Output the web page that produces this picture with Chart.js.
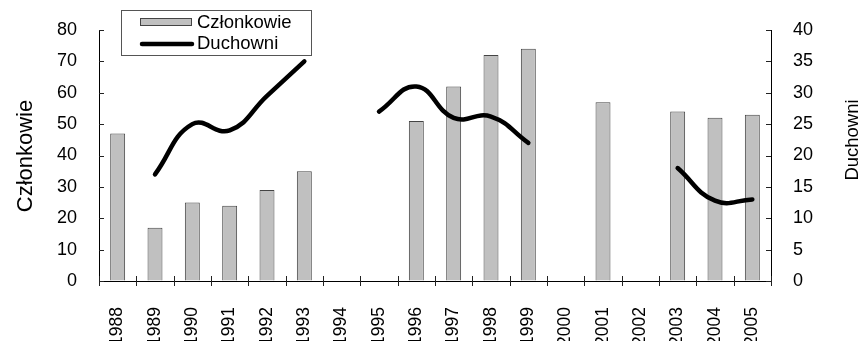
<!DOCTYPE html>
<html>
<head>
<meta charset="utf-8">
<script src="https://cdn.jsdelivr.net/npm/chart.js@4"></script>
<style>
  html, body { margin: 0; padding: 0; background: #fff; }
</style>
</head>
<body>
<canvas id="myChart" width="861" height="341"></canvas>
<script>
var years = ["1988","1989","1990","1991","1992","1993","1994","1995","1996","1997","1998","1999","2000","2001","2002","2003","2004","2005"];
var czlonkowie = [47, 17, 25, 24, 29, 35, null, null, 51, 62, 72, 74, null, 57, null, 54, 52, 53];
var duchowni = [null, 17, 25, 24, 29.5, 35, null, 27, 31, 26, 26.2, 22, null, null, null, 18, 12.8, 13];
var leftMax = 80, leftStep = 10;
var rightMax = 40, rightStep = 5;

var fontName = "'Liberation Sans', Arial, sans-serif";

// legend, axis titles and inside tick marks, drawn like the excel original
var extras = {
  id: "extras",
  afterDraw: function (chart) {
    var ctx = chart.ctx, a = chart.chartArea;
    var x = chart.scales.x, y = chart.scales.y, y1 = chart.scales.y1;
    ctx.save();
    ctx.strokeStyle = "#222";
    ctx.lineWidth = 1;
    ctx.beginPath();
    y.ticks.forEach(function (t) {
      var py = Math.round(y.getPixelForValue(t.value)) + 0.5;
      ctx.moveTo(a.left, py); ctx.lineTo(a.left + 5, py);
    });
    y1.ticks.forEach(function (t) {
      var py = Math.round(y1.getPixelForValue(t.value)) + 0.5;
      ctx.moveTo(a.right - 5, py); ctx.lineTo(a.right, py);
    });
    var cw = (a.right - a.left) / years.length;
    for (var i = 0; i <= years.length; i++) {
      var px = Math.round(x.getPixelForValue(0) - cw / 2 + i * cw) + 0.5;
      ctx.moveTo(px, a.bottom - 5); ctx.lineTo(px, a.bottom + 5);
    }
    ctx.stroke();

    // axis titles
    ctx.fillStyle = "#000";
    ctx.textAlign = "center";
    ctx.textBaseline = "alphabetic";
    ctx.save();
    ctx.translate(32, 156);
    ctx.rotate(-Math.PI / 2);
    ctx.font = "22px " + fontName;
    ctx.fillText("Członkowie", 0, 0);
    ctx.restore();
    ctx.save();
    ctx.translate(858, 140);
    ctx.rotate(-Math.PI / 2);
    ctx.font = "18.5px " + fontName;
    ctx.fillText("Duchowni", 0, 0);
    ctx.restore();

    // legend box
    ctx.fillStyle = "#fff";
    ctx.fillRect(121.5, 10.5, 190, 45);
    ctx.strokeStyle = "#555";
    ctx.strokeRect(121.5, 10.5, 190, 45);
    ctx.fillStyle = "#c0c0c0";
    ctx.fillRect(140.5, 18.5, 51, 7);
    ctx.strokeStyle = "#444";
    ctx.strokeRect(140.5, 18.5, 51, 7);
    ctx.strokeStyle = "#000";
    ctx.lineWidth = 4.5;
    ctx.lineCap = "round";
    ctx.beginPath();
    ctx.moveTo(142, 44); ctx.lineTo(192, 44);
    ctx.stroke();
    ctx.fillStyle = "#000";
    ctx.font = "18.5px " + fontName;
    ctx.textAlign = "left";
    ctx.textBaseline = "middle";
    ctx.fillText("Członkowie", 197, 22.5);
    ctx.fillText("Duchowni", 197, 44);
    ctx.restore();
  }
};

new Chart("myChart", {
  type: "bar",
  data: {
    labels: years,
    datasets: [{
      type: "line",
      label: "Duchowni",
      data: duchowni,
      yAxisID: "y1",
      borderColor: "#000",
      borderWidth: 4.5,
      borderCapStyle: "round",
      tension: 0.45,
      pointRadius: 0,
      spanGaps: false,
      order: 0
    }, {
      label: "Członkowie",
      data: czlonkowie,
      yAxisID: "y",
      backgroundColor: "#c0c0c0",
      borderColor: "#444",
      borderWidth: 1,
      categoryPercentage: 1,
      barPercentage: 0.4,
      order: 1
    }]
  },
  options: {
    responsive: false,
    animation: false,
    layout: { padding: { top: 30, left: 0, right: 0, bottom: 0 } },
    plugins: {
      legend: { display: false },
      tooltip: { enabled: false }
    },
    scales: {
      x: {
        offset: true,
        grid: { display: true, drawOnChartArea: false, drawTicks: false },
        border: { display: true, color: "#000", width: 1 },
        ticks: { color: "#000", font: { family: fontName, size: 17.5 }, minRotation: 90, maxRotation: 90, padding: 26, autoSkip: false },
        afterFit: function (s) { s.height = 60; s.paddingTop = 0; }
      },
      y: {
        position: "left",
        min: 0, max: leftMax,
        grid: { display: true, drawOnChartArea: false, drawTicks: false },
        border: { display: true, color: "#000", width: 1 },
        ticks: { color: "#000", font: { family: fontName, size: 18 }, stepSize: leftStep, padding: 22 },
        afterFit: function (s) { s.width = 99; s.paddingTop = 0; }
      },
      y1: {
        position: "right",
        min: 0, max: rightMax,
        grid: { display: true, drawOnChartArea: false, drawTicks: false },
        border: { display: true, color: "#000", width: 1 },
        ticks: { color: "#000", font: { family: fontName, size: 18 }, stepSize: rightStep, padding: 22 },
        afterFit: function (s) { s.width = 90; s.paddingTop = 0; }
      }
    }
  },
  plugins: [extras]
});
</script>
</body>
</html>
